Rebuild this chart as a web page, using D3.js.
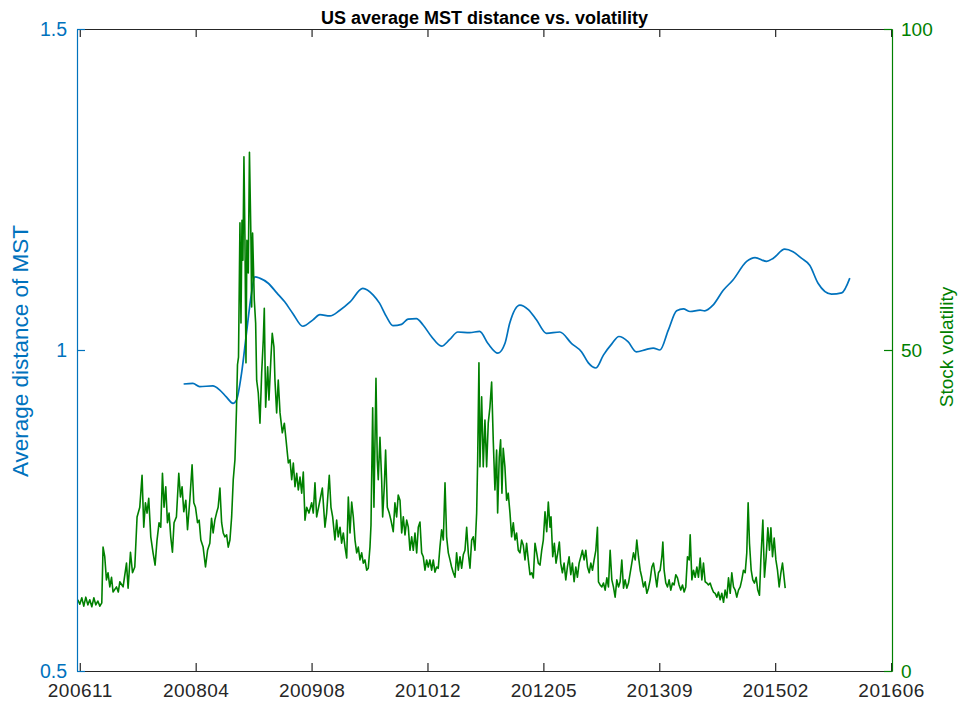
<!DOCTYPE html>
<html><head><meta charset="utf-8">
<script src="https://cdn.jsdelivr.net/npm/d3@7"></script>
<style>
body{margin:0;background:#fff}
svg{display:block}
text{font-family:"Liberation Sans",Arial,Helvetica,sans-serif}
</style>
</head><body>
<svg id="c" width="959" height="702"></svg>
<script>
// ---------- data ----------
const titleText = "US average MST distance vs. volatility";
const leftLabel = "Average distance of MST";
const rightLabel = "Stock volatility";
const xTickLabels = ["200611","200804","200908","201012","201205","201309","201502","201606"];
const xTickFirst = "2006-11-01", xTickLast = "2016-06-01";
const xLimits = ["2006-10-20", "2016-06-05"];
const leftLimits = [0.5, 1.5];
const leftTicks = [0.5, 1, 1.5];
const rightLimits = [0, 100];
const rightTicks = [0, 50, 100];

// average MST distance: [date, value]
const mst = [
["2008-01-23",0.947],["2008-03-03",0.948],["2008-04-01",0.943],["2008-05-28",0.944],["2008-06-26",0.938],
["2008-07-25",0.927],["2008-08-23",0.917],["2008-09-07",0.922],["2008-09-29",0.964],["2008-10-20",1.026],
["2008-11-11",1.089],["2008-11-25",1.114],["2008-12-16",1.112],["2009-01-22",1.104],["2009-02-28",1.089],
["2009-04-03",1.075],["2009-05-08",1.057],["2009-06-20",1.037],["2009-08-03",1.047],["2009-09-02",1.055],
["2009-10-15",1.053],["2009-11-27",1.062],["2010-01-10",1.075],["2010-03-06",1.096],["2010-04-19",1.086],
["2010-05-17",1.073],["2010-06-16",1.052],["2010-07-14",1.038],["2010-08-20",1.040],["2010-09-17",1.048],
["2010-10-23",1.049],["2010-11-21",1.039],["2010-12-27",1.021],["2011-02-09",1.006],["2011-03-15",1.016],
["2011-04-20",1.028],["2011-06-10",1.027],["2011-07-23",1.029],["2011-08-28",1.010],["2011-10-10",0.995],
["2011-11-09",1.010],["2011-11-30",1.042],["2012-01-13",1.070],["2012-02-18",1.063],["2012-03-24",1.047],
["2012-05-06",1.026],["2012-07-03",1.028],["2012-08-23",1.010],["2012-10-05",0.997],["2012-11-03",0.980],
["2012-12-06",0.972],["2013-01-07",0.992],["2013-02-13",1.010],["2013-03-15",1.021],["2013-04-23",1.013],
["2013-05-29",0.997],["2013-07-12",1.001],["2013-08-10",1.003],["2013-09-08",1.000],["2013-10-14",1.031],
["2013-11-19",1.061],["2013-12-18",1.064],["2014-01-16",1.060],["2014-02-28",1.062],["2014-03-20",1.061],
["2014-04-25",1.070],["2014-06-08",1.093],["2014-07-20",1.109],["2014-09-17",1.138],["2014-10-23",1.144],
["2014-12-12",1.138],["2015-01-10",1.143],["2015-02-28",1.157],["2015-04-05",1.153],["2015-05-11",1.143],
["2015-06-16",1.132],["2015-07-22",1.104],["2015-09-18",1.087],["2015-11-01",1.089],["2015-12-06",1.112]
];

// stock volatility: [decimal year, value]
const volatility = [
[2006.810,11.1],[2006.833,10.4],[2006.857,11.4],[2006.880,10.1],[2006.904,11.5],[2006.928,10.3],[2006.951,11.1],
[2006.975,10.0],[2006.999,11.4],[2007.022,10.3],[2007.046,10.9],[2007.070,10.1],[2007.093,10.6],[2007.108,19.3],
[2007.128,17.8],[2007.148,14.2],[2007.167,15.3],[2007.188,13.1],[2007.208,14.6],[2007.226,12.3],[2007.267,13.1],
[2007.288,12.3],[2007.306,13.9],[2007.345,13.1],[2007.385,16.8],[2007.404,12.9],[2007.432,18.5],[2007.456,15.3],
[2007.483,16.2],[2007.510,24.0],[2007.542,25.5],[2007.569,30.5],[2007.589,22.4],[2007.609,26.2],[2007.628,24.6],
[2007.648,26.9],[2007.672,20.9],[2007.699,18.4],[2007.723,16.5],[2007.746,20.4],[2007.770,23.1],[2007.790,22.4],
[2007.810,30.8],[2007.829,25.5],[2007.849,28.7],[2007.869,23.1],[2007.888,24.6],[2007.908,20.9],[2007.928,18.5],
[2007.947,23.1],[2007.975,24.0],[2008.003,30.8],[2008.023,27.1],[2008.042,28.7],[2008.062,24.8],[2008.086,26.6],
[2008.106,22.0],[2008.133,26.6],[2008.160,32.1],[2008.180,26.2],[2008.200,25.5],[2008.224,23.1],[2008.243,23.5],
[2008.263,20.4],[2008.290,19.3],[2008.318,16.2],[2008.342,18.8],[2008.369,19.9],[2008.389,23.8],[2008.408,21.5],
[2008.428,23.5],[2008.448,24.6],[2008.467,25.5],[2008.488,28.5],[2008.508,23.1],[2008.527,21.5],[2008.547,20.9],
[2008.567,21.2],[2008.586,19.3],[2008.606,20.4],[2008.626,24.0],[2008.645,29.8],[2008.665,32.9],[2008.683,40.7],
[2008.695,47.7],[2008.707,48.9],[2008.724,69.8],[2008.736,54.2],[2008.748,70.2],[2008.759,64.0],[2008.771,80.1],
[2008.783,67.1],[2008.795,48.0],[2008.806,67.1],[2008.822,62.0],[2008.836,80.8],[2008.854,67.1],[2008.862,56.7],
[2008.873,68.2],[2008.893,57.8],[2008.909,54.2],[2008.921,45.3],[2008.940,43.3],[2008.960,38.6],[2008.980,46.4],
[2008.999,51.6],[2009.011,56.5],[2009.027,41.1],[2009.051,47.4],[2009.066,42.2],[2009.090,48.9],[2009.105,52.6],
[2009.125,50.5],[2009.137,45.3],[2009.157,40.2],[2009.176,45.3],[2009.197,40.2],[2009.224,37.1],[2009.248,38.6],
[2009.268,36.0],[2009.295,32.4],[2009.315,32.9],[2009.335,29.8],[2009.354,32.4],[2009.374,28.7],[2009.394,30.8],
[2009.413,28.2],[2009.433,30.2],[2009.453,27.7],[2009.472,31.0],[2009.492,23.5],[2009.512,25.5],[2009.539,24.6],
[2009.571,26.2],[2009.590,24.6],[2009.610,29.3],[2009.630,24.0],[2009.669,26.6],[2009.697,28.5],[2009.728,22.4],
[2009.748,24.6],[2009.779,30.5],[2009.799,25.5],[2009.819,24.0],[2009.846,20.4],[2009.866,23.5],[2009.885,20.9],
[2009.906,22.4],[2009.925,19.9],[2009.945,21.5],[2009.965,19.3],[2009.985,17.6],[2010.004,27.1],[2010.024,21.5],
[2010.044,26.3],[2010.063,24.0],[2010.083,20.4],[2010.103,18.4],[2010.122,19.3],[2010.142,17.3],[2010.162,18.4],
[2010.181,16.8],[2010.201,17.3],[2010.221,15.7],[2010.240,16.0],[2010.260,19.3],[2010.272,22.7],[2010.292,41.0],
[2010.307,25.5],[2010.331,45.6],[2010.346,32.9],[2010.358,29.8],[2010.378,36.4],[2010.398,29.8],[2010.410,24.0],
[2010.429,28.7],[2010.445,34.4],[2010.465,25.5],[2010.488,24.6],[2010.508,23.5],[2010.535,21.7],[2010.555,26.2],
[2010.575,24.0],[2010.594,27.4],[2010.615,26.6],[2010.635,21.5],[2010.654,24.0],[2010.674,21.2],[2010.694,23.5],
[2010.713,22.4],[2010.733,18.8],[2010.753,20.9],[2010.772,18.8],[2010.792,21.5],[2010.812,18.4],[2010.831,22.4],
[2010.851,23.2],[2010.871,18.4],[2010.890,17.8],[2010.910,15.7],[2010.930,17.3],[2010.949,16.2],[2010.969,17.3],
[2010.989,15.7],[2011.008,17.3],[2011.028,15.4],[2011.048,16.2],[2011.067,16.0],[2011.087,19.3],[2011.107,22.0],
[2011.127,20.4],[2011.147,29.3],[2011.166,20.9],[2011.186,18.4],[2011.206,17.3],[2011.225,16.2],[2011.245,15.3],
[2011.265,14.6],[2011.284,18.4],[2011.304,15.7],[2011.324,17.8],[2011.344,16.0],[2011.363,18.1],[2011.383,18.8],
[2011.403,22.4],[2011.422,18.4],[2011.442,16.0],[2011.462,20.4],[2011.481,20.9],[2011.501,18.8],[2011.521,24.6],
[2011.533,32.9],[2011.548,48.0],[2011.560,31.8],[2011.580,42.7],[2011.599,31.8],[2011.619,39.1],[2011.639,31.8],
[2011.658,38.6],[2011.678,41.1],[2011.698,45.0],[2011.717,36.0],[2011.737,28.2],[2011.757,34.4],[2011.769,24.6],
[2011.788,33.3],[2011.804,36.0],[2011.820,27.7],[2011.835,34.7],[2011.855,31.8],[2011.875,26.6],[2011.894,27.7],
[2011.915,24.6],[2011.934,20.9],[2011.954,23.1],[2011.974,20.4],[2011.993,21.5],[2012.013,18.8],[2012.033,18.4],
[2012.052,20.4],[2012.072,19.6],[2012.092,17.3],[2012.111,19.9],[2012.131,17.3],[2012.151,15.0],[2012.171,15.3],
[2012.190,14.5],[2012.210,19.9],[2012.230,18.4],[2012.249,16.8],[2012.269,16.5],[2012.289,18.8],[2012.308,20.4],
[2012.328,24.8],[2012.348,21.7],[2012.367,26.3],[2012.387,22.4],[2012.399,24.0],[2012.419,17.8],[2012.438,19.9],
[2012.458,16.8],[2012.478,18.4],[2012.497,20.1],[2012.513,16.8],[2012.533,15.3],[2012.553,16.8],[2012.573,14.2],
[2012.592,16.2],[2012.612,17.8],[2012.632,15.0],[2012.651,16.8],[2012.671,13.9],[2012.691,16.2],[2012.710,14.6],
[2012.730,16.8],[2012.750,17.8],[2012.769,18.8],[2012.789,17.3],[2012.809,18.8],[2012.829,16.2],[2012.849,15.3],
[2012.868,16.8],[2012.888,15.7],[2012.907,17.3],[2012.927,18.8],[2012.946,22.4],[2012.958,13.9],[2012.978,13.4],
[2012.998,13.1],[2013.017,13.7],[2013.037,12.6],[2013.057,14.5],[2013.076,13.1],[2013.096,18.8],[2013.116,14.2],
[2013.135,13.1],[2013.155,11.5],[2013.175,14.2],[2013.195,13.1],[2013.214,13.9],[2013.234,17.3],[2013.254,12.9],
[2013.273,14.2],[2013.293,12.9],[2013.313,13.7],[2013.333,15.3],[2013.352,16.8],[2013.372,18.4],[2013.392,17.3],
[2013.411,20.4],[2013.431,17.8],[2013.451,15.7],[2013.470,14.6],[2013.490,13.1],[2013.510,13.9],[2013.530,12.1],
[2013.549,12.9],[2013.569,14.2],[2013.589,16.2],[2013.608,16.8],[2013.628,15.0],[2013.648,13.1],[2013.667,15.3],
[2013.687,15.7],[2013.707,17.8],[2013.719,20.1],[2013.734,15.7],[2013.754,13.7],[2013.774,13.1],[2013.793,14.2],
[2013.813,12.6],[2013.833,13.7],[2013.852,13.4],[2013.872,15.0],[2013.892,14.5],[2013.911,13.4],[2013.931,12.6],
[2013.951,13.4],[2013.971,12.3],[2013.990,13.1],[2014.010,17.8],[2014.030,17.3],[2014.042,21.2],[2014.062,14.2],
[2014.081,15.7],[2014.101,14.6],[2014.121,16.2],[2014.140,14.6],[2014.160,17.6],[2014.180,14.2],[2014.199,16.8],
[2014.219,13.9],[2014.239,13.7],[2014.258,13.4],[2014.278,13.7],[2014.298,12.9],[2014.317,12.3],[2014.337,12.1],
[2014.357,11.5],[2014.376,12.3],[2014.396,11.1],[2014.416,12.1],[2014.436,10.7],[2014.455,12.6],[2014.475,11.4],
[2014.495,14.5],[2014.515,12.1],[2014.534,15.3],[2014.554,13.1],[2014.574,12.6],[2014.593,11.5],[2014.613,12.6],
[2014.633,13.1],[2014.652,14.2],[2014.672,15.7],[2014.692,15.3],[2014.711,18.4],[2014.727,26.2],[2014.743,19.9],
[2014.763,15.7],[2014.782,14.2],[2014.802,13.7],[2014.822,14.6],[2014.841,12.6],[2014.861,11.8],[2014.877,17.3],
[2014.901,23.5],[2014.920,14.6],[2014.940,17.8],[2014.960,22.3],[2014.979,18.8],[2014.996,22.3],[2015.015,17.8],
[2015.035,20.7],[2015.055,17.3],[2015.074,15.7],[2015.094,13.1],[2015.114,15.3],[2015.133,16.8],[2015.145,15.4],
[2015.165,12.9]
];

// ---------- drawing ----------
const blue = "#0072BD", green = "#008000", axisGray = "#262626";
const box = {l:77, r:892, t:29, b:671};
const parse = d3.utcParse("%Y-%m-%d");
function fromDecimalYear(v){
  const yr = Math.floor(v);
  const s = Date.UTC(yr,0,1), e = Date.UTC(yr+1,0,1);
  return new Date(s + (v-yr)*(e-s));
}

const svg = d3.select("#c");
const x = d3.scaleUtc().domain(xLimits.map(parse)).range([box.l, box.r]);
const yL = d3.scaleLinear().domain(leftLimits).range([box.b, box.t]);
const yR = d3.scaleLinear().domain(rightLimits).range([box.b, box.t]);

const t0 = parse(xTickFirst), t1 = parse(xTickLast);
const tickDates = xTickLabels.map((_, i) => new Date(+t0 + (t1 - t0) * i / (xTickLabels.length - 1)));

svg.append("defs").append("clipPath").attr("id","clip")
  .append("rect").attr("x",box.l).attr("y",box.t).attr("width",box.r-box.l).attr("height",box.b-box.t);

const plot = svg.append("g").attr("clip-path","url(#clip)");

plot.append("path")
  .datum(mst)
  .attr("fill","none").attr("stroke",blue).attr("stroke-width",1.7).attr("stroke-linejoin","round")
  .attr("d", d3.line().curve(d3.curveMonotoneX).x(d => x(parse(d[0]))).y(d => yL(d[1])));

plot.append("path")
  .datum(volatility)
  .attr("fill","none").attr("stroke",green).attr("stroke-width",1.6).attr("stroke-linejoin","round")
  .attr("d", d3.line().x(d => x(fromDecimalYear(d[0]))).y(d => yR(d[1])));

function styleAxis(g, color, size){
  g.selectAll("path.domain").attr("stroke", color).attr("stroke-width", 1.2);
  g.selectAll(".tick line").attr("stroke", color).attr("stroke-width", 1.2);
  g.selectAll(".tick text").attr("fill", color).style("font-size", size + "px")
    .style("font-family", '"Liberation Sans", Arial, sans-serif');
}

// bottom
const gB = svg.append("g").attr("transform", `translate(0,${box.b})`)
  .call(d3.axisBottom(x).tickValues(tickDates).tickFormat((d,i) => xTickLabels[i])
    .tickSizeInner(-8).tickSizeOuter(0).tickPadding(13));
styleAxis(gB, axisGray, 19);
gB.selectAll(".tick text").style("letter-spacing", "0.5px");
// top
const gT = svg.append("g").attr("transform", `translate(0,${box.t})`)
  .call(d3.axisTop(x).tickValues(tickDates).tickFormat("").tickSizeInner(-8).tickSizeOuter(0));
styleAxis(gT, axisGray, 18);
// left
const gL = svg.append("g").attr("transform", `translate(${box.l},0)`)
  .call(d3.axisLeft(yL).tickValues(leftTicks).tickFormat(d => String(d))
    .tickSizeInner(-8).tickSizeOuter(0).tickPadding(10));
styleAxis(gL, blue, 19.5);
// right
const gR = svg.append("g").attr("transform", `translate(${box.r},0)`)
  .call(d3.axisRight(yR).tickValues(rightTicks).tickFormat(d => String(d))
    .tickSizeInner(-8).tickSizeOuter(0).tickPadding(9));
styleAxis(gR, green, 19);

// title
svg.append("text").attr("x", (box.l+box.r)/2).attr("y", 24)
  .attr("text-anchor","middle").style("font-weight","bold").style("font-size","18px")
  .attr("fill","#000").text(titleText);

// axis labels
svg.append("text").attr("transform", `translate(28,${(box.t+box.b)/2+1}) rotate(-90)`)
  .attr("text-anchor","middle").style("font-size","22.5px").attr("fill",blue).text(leftLabel);
svg.append("text").attr("transform", `translate(953,${(box.t+box.b)/2-3}) rotate(-90)`)
  .attr("text-anchor","middle").style("font-size","19px").attr("fill",green).text(rightLabel);
</script>
</body></html>
